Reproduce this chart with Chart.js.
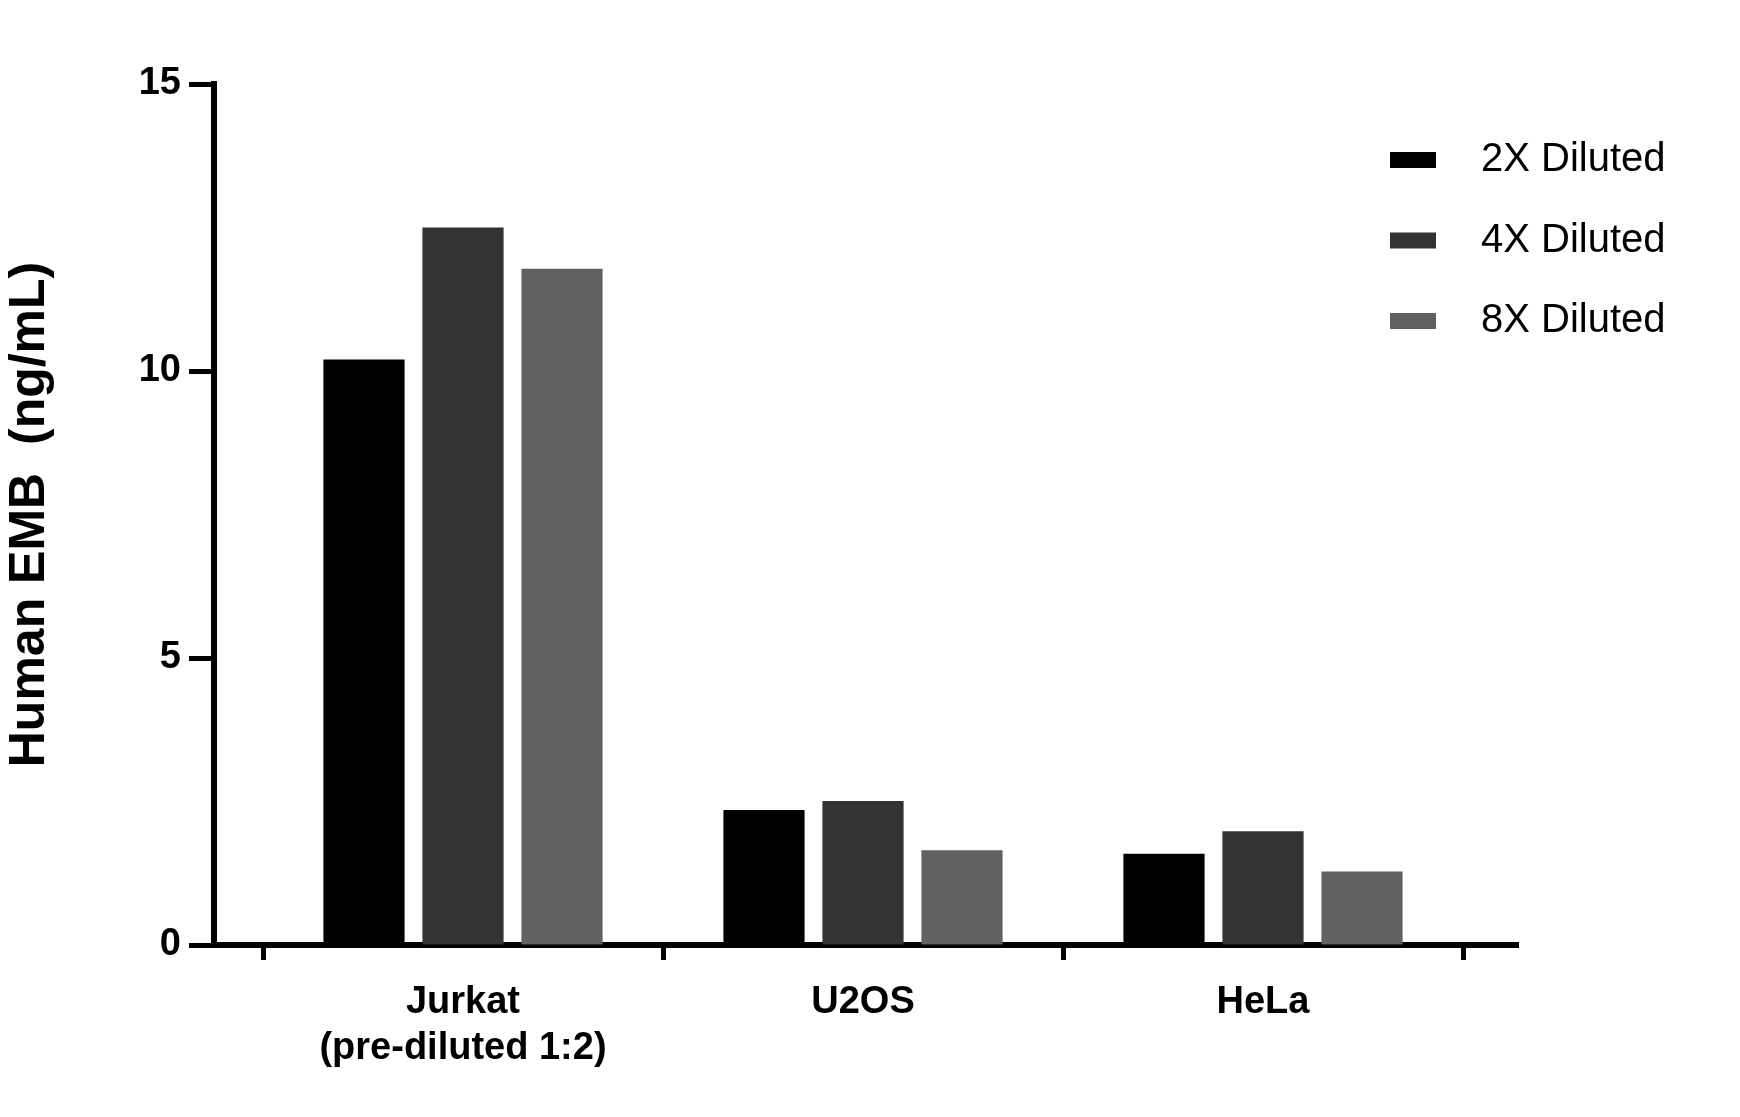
<!DOCTYPE html>
<html><head><meta charset="utf-8">
<script src="https://cdn.jsdelivr.net/npm/chart.js@4/dist/chart.umd.min.js"></script>
<style>html,body{margin:0;padding:0;background:#fff}#w{width:1740px;height:1117px}</style>
</head><body><div id="w"><canvas id="c"></canvas></div>
<script>
const categories = [['Jurkat','(pre-diluted 1:2)'], ['U2OS'], ['HeLa']];
const seriesNames = ['2X Diluted', '4X Diluted', '8X Diluted'];
const diluted2X = [10.2, 2.35, 1.59];
const diluted4X = [12.5, 2.51, 1.98];
const diluted8X = [11.78, 1.65, 1.28];
const yTicks = [0, 5, 10, 15];
const colors = ['#000000', '#333333', '#616161'];
const series = [diluted2X, diluted4X, diluted8X];

const legendPlugin = {
  id: 'lg',
  afterDraw(chart) {
    const ctx = chart.ctx;
    ctx.save();
    ctx.font = '40px "Liberation Sans", Arial, sans-serif';
    ctx.textBaseline = 'middle';
    seriesNames.forEach((n, i) => {
      const y = 160 + i * 80.5;
      ctx.fillStyle = colors[i];
      ctx.fillRect(1390, y - 8, 46, 16);
      ctx.fillStyle = '#000';
      ctx.fillText(n, 1481, y);
    });
    ctx.restore();
  }
};

new Chart(document.getElementById('c'), {
  type: 'bar',
  data: {
    datasets: series.map((s, i) => ({
      label: seriesNames[i],
      data: s.map((v, j) => ({x: j, y: v})),
      backgroundColor: colors[i],
      categoryPercentage: 0.7425,
      barPercentage: 0.82
    }))
  },
  options: {
    responsive: true, maintainAspectRatio: false, animation: false,
    layout: {padding: {top: 84, right: 222, left: 0, bottom: 0}},
    plugins: {legend: {display: false}, tooltip: {enabled: false}},
    scales: {
      x: {
        type: 'linear', min: -0.6225, max: 2.6375, offset: false,
        afterBuildTicks(s) { s.ticks = [0,1,2].map(v => ({value: v})); },
        afterFit(s) { s.height = 172; },
        grid: {drawOnChartArea: false, drawTicks: true, tickLength: 15, tickWidth: 5, color: '#000'},
        border: {display: true, color: '#000', width: 6},
        ticks: {
          color: '#000', padding: 20,
          font: {family: '"Liberation Sans", Arial, sans-serif', size: 38, weight: 'bold'},
          callback: (v) => categories[v] || ''
        }
      },
      y: {
        min: 0, max: 15,
        afterBuildTicks(s) { s.ticks = yTicks.map(v => ({value: v})); },
        afterFit(s) { s.width = 214; },
        grid: {drawOnChartArea: false, drawTicks: true, tickLength: 25, tickWidth: 5, color: '#000'},
        border: {display: true, color: '#000', width: 6},
        ticks: {
          color: '#000', padding: 8,
          font: {family: '"Liberation Sans", Arial, sans-serif', size: 38, weight: 'bold'}
        },
        title: {
          display: true, text: 'Human EMB  (ng/mL)', color: '#000', padding: {top: 0, bottom: 12},
          font: {family: '"Liberation Sans", Arial, sans-serif', size: 50, weight: 'bold'}
        }
      }
    }
  },
  plugins: [legendPlugin]
});
</script></body></html>
